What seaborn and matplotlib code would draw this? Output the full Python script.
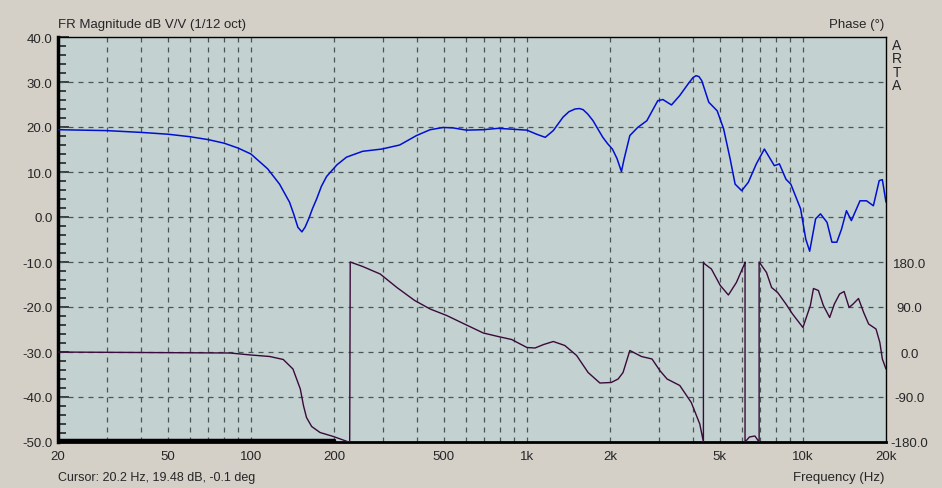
import numpy as np
import pandas as pd
import matplotlib
matplotlib.use("Agg")
import matplotlib.pyplot as plt
from matplotlib.ticker import FixedLocator, NullFormatter, MultipleLocator
import seaborn as sns

# ── Data ──
mag_freq = [20, 30, 40, 50, 60, 70, 80, 90, 100, 115, 127, 138, 143, 148, 153, 157,
            162, 167, 173, 180, 188, 205, 222, 254, 298, 346, 398, 446, 498, 540,
            604, 695, 786, 892, 1000, 1084, 1165, 1246, 1352, 1420, 1494, 1550, 1598,
            1660, 1736, 1810, 1884, 1960, 2040, 2120, 2200, 2250, 2360, 2520, 2720,
            2980, 3110, 3340, 3580, 3840, 4000, 4100, 4200, 4300, 4560, 4890, 5160,
            5450, 5680, 6000, 6340, 6780, 7250, 7880, 8220, 8680, 9040, 9810, 10240,
            10580, 11120, 11580, 12230, 12740, 13270, 13800, 14380, 14980, 16100,
            17000, 18000, 18900, 19400, 20000]
mag_db = [19.4, 19.2, 18.8, 18.4, 17.85, 17.2, 16.4, 15.3, 14.0, 10.7, 7.3, 3.3, 0.6,
          -2.3, -3.3, -2.3, -0.4, 1.8, 4.0, 6.8, 9.0, 11.6, 13.3, 14.6, 15.1, 16.0,
          18.1, 19.4, 19.9, 19.8, 19.3, 19.4, 19.7, 19.5, 19.3, 18.4, 17.7, 19.2, 22.2,
          23.4, 24.0, 24.1, 23.85, 22.9, 21.4, 19.5, 17.7, 16.3, 15.1, 13.0, 10.1, 12.9,
          18.1, 19.9, 21.4, 25.85, 26.1, 24.9, 27.0, 29.6, 31.0, 31.4, 31.2, 30.3, 25.5,
          23.6, 19.6, 12.9, 7.3, 5.85, 7.7, 11.8, 15.1, 11.4, 11.8, 8.4, 7.3, 1.8, -4.9,
          -7.6, -0.4, 0.7, -1.2, -5.6, -5.6, -2.7, 1.4, -0.8, 3.6, 3.6, 2.5, 8.1, 8.3,
          3.3]

phase_freq = [20, 84, 100, 117, 131, 142, 151, 155, 159, 166, 178, 199, 226, 228,
              229, 254, 294, 338, 392, 446, 512, 604, 695, 786, 880, 1000, 1070, 1150,
              1246, 1372, 1514, 1666, 1838, 2020, 2140, 2230, 2360, 2600, 2840, 3030,
              3220, 3580, 3940, 4230, 4360, 4360, 4410, 4660, 5020, 5370, 5740, 6140,
              6170, 6170, 6400, 6700, 6940, 6940, 7380, 7700, 8100, 8680, 9170, 10000,
              10640, 10920, 11380, 11860, 12500, 13000, 13580, 14100, 14700, 15200,
              15900, 16600, 17300, 18400, 19000, 19400, 20000]
phase_deg = [-0.1, -2, -6, -9, -15, -34, -74, -107, -131, -149, -161, -169, -180, -180,
             180, 171, 156, 129, 103, 86, 73, 54, 38, 31, 25, 9, 8, 15, 21,
             13, -7, -41, -62, -61, -54, -41, 3, -9, -14, -37, -54,
             -67, -101, -144, -180, 180, 176, 166, 133, 114, 139, 176, 180,
             -180, -170, -168, -180, 180, 159, 129, 119, 96, 76, 49,
             93, 127, 123, 93, 69, 96, 116, 121, 89, 96,
             107, 79, 56, 46, 19, -14, -34]

# heavy baseline trace at the bottom (low-frequency end)
base_freq = [20, 200]
base_db = [-49.5, -49.5]

x_ticks = [20, 50, 100, 200, 500, 1000, 2000, 5000, 10000, 20000]
x_labels = ["20", "50", "100", "200", "500", "1k", "2k", "5k", "10k", "20k"]
mag_ticks = [-50, -40, -30, -20, -10, 0, 10, 20, 30, 40]
phase_ticks = [-180, -90, 0, 90, 180]

mag = pd.DataFrame({"freq": mag_freq, "db": mag_db})
phase = pd.DataFrame({"freq": phase_freq, "deg": phase_deg})

# ── Style ──
sns.set_style("white")
plt.rcParams['font.family'] = ['Liberation Sans', 'DejaVu Sans']
plt.rcParams['font.size'] = 8.8

bg = "#d4d0c8"
panel = "#c3d1d1"
grid_c = "#4a5656"

fig = plt.figure(figsize=(9.42, 4.89), dpi=100, facecolor=bg)
ax = fig.add_axes([58 / 942, 46 / 489, 828 / 942, 405 / 489])
ax.set_facecolor(panel)

ax.set_xscale("log")
ax.set_xlim(20, 20000)
ax.set_ylim(-50, 40)

# dashed grid: 10 dB rows, log decades columns
minor_x = [m * d for d in (10, 100, 1000, 10000) for m in range(1, 10) if 20 < m * d < 20000]
for f in minor_x:
    ax.axvline(f, color=grid_c, lw=0.9, ls=(0, (4, 4)), zorder=1)
for v in mag_ticks[1:-1]:
    ax.axhline(v, color=grid_c, lw=0.9, ls=(0, (4, 4)), zorder=1)

sns.lineplot(data=mag, x="freq", y="db", ax=ax, sort=False, estimator=None,
             color="#0010d0", lw=1.1, zorder=3)
ax.plot(base_freq, base_db, color="black", lw=2.5, zorder=2)

ax.xaxis.set_major_locator(FixedLocator(x_ticks))
ax.xaxis.set_minor_locator(FixedLocator(minor_x))
ax.set_xticklabels(x_labels)
ax.xaxis.set_minor_formatter(NullFormatter())
ax.yaxis.set_major_locator(FixedLocator(mag_ticks))
ax.yaxis.set_minor_locator(MultipleLocator(2))
ax.set_yticklabels([f"{v:.1f}" for v in mag_ticks])
ax.tick_params(axis="x", which="both", direction="in", length=8, width=1.2,
               top=False, pad=6, labelsize=9.5)
ax.tick_params(axis="y", which="major", direction="in", length=8, width=1.2,
               right=False, pad=4, labelsize=9.5)
ax.tick_params(axis="y", which="minor", direction="in", length=6, width=1.2, right=False)
ax.set_xlabel("")
ax.set_ylabel("")

for side, w in (("left", 2.5), ("bottom", 2.0), ("top", 1.0), ("right", 1.0)):
    ax.spines[side].set_visible(True)
    ax.spines[side].set_color("black")
    ax.spines[side].set_linewidth(w)

# phase on its own right-hand scale, sharing the bottom band
ax2 = ax.twinx()
ax2.set_ylim(-180, 630)
sns.lineplot(data=phase, x="freq", y="deg", ax=ax2, sort=False, estimator=None,
             color="#3a0a3a", lw=1.0, zorder=3)
ax2.yaxis.set_major_locator(FixedLocator(phase_ticks))
ax2.set_yticklabels([f"{v:.1f}" for v in phase_ticks], ha="center")
ax2.tick_params(axis="y", length=0, pad=17, labelsize=9.5)
ax2.set_ylabel("")
ax2.set_xlabel("")
for s in ax2.spines.values():
    s.set_visible(False)

# header / footer texts
fig.text(58 / 942, 1 - 25 / 489, "FR Magnitude dB V/V (1/12 oct)", ha="left", va="center", fontsize=9.5)
fig.text(884 / 942, 1 - 25 / 489, "Phase (°)", ha="right", va="center", fontsize=9.5)
fig.text(897 / 942, 1 - 66 / 489, "A\nR\nT\nA", ha="center", va="center",
         fontsize=10, linespacing=0.95)
fig.text(58 / 942, 1 - 478 / 489, "Cursor: 20.2 Hz, 19.48 dB, -0.1 deg", ha="left", va="center", fontsize=9)
fig.text(884 / 942, 1 - 478 / 489, "Frequency (Hz)", ha="right", va="center", fontsize=9.5)

fig.savefig("out.png", dpi=100, facecolor=bg)
